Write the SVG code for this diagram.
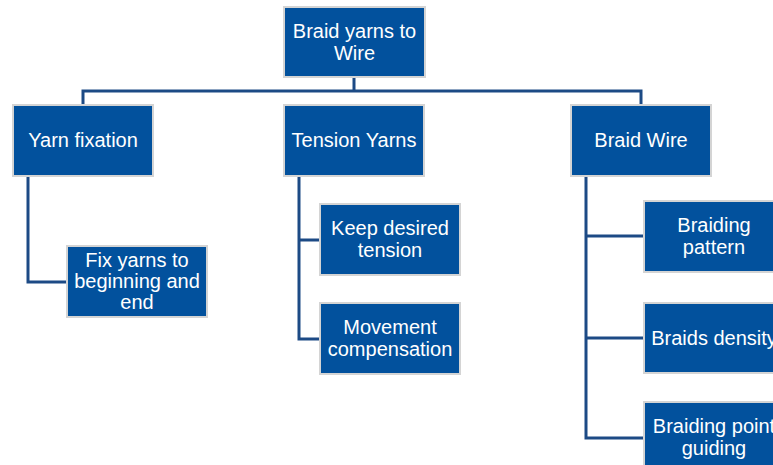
<svg xmlns="http://www.w3.org/2000/svg" width="773" height="465" viewBox="0 0 773 465">
<style>
.box{fill:#02519d;stroke:#d4d4d4;stroke-width:2}
.t{font-family:"Liberation Sans",Arial,sans-serif;font-size:20px;fill:#ffffff;text-anchor:middle}
.c{fill:none;stroke:#1c4a85;stroke-width:3}
</style>
<rect width="773" height="465" fill="#ffffff"/>
<g id="connectors">
<path class="c" d="M354,77 V91 M83,105 V91 H641 V105"/>
<path class="c" d="M28,176 V282 H67"/>
<path class="c" d="M299,176 V339 H320 M299,240 H320"/>
<path class="c" d="M586,176 V438 H644 M586,236 H644 M586,338 H644"/>
</g>
<g id="root"><rect class="box" x="284" y="7" width="141" height="70"/><text class="t" x="354.5" y="38">Braid yarns to</text><text class="t" x="354.5" y="60">Wire</text></g>
<g id="yarn-fixation"><rect class="box" x="13" y="105" width="140" height="71"/><text class="t" x="83" y="147">Yarn fixation</text></g>
<g id="tension-yarns"><rect class="box" x="284" y="105" width="140" height="71"/><text class="t" x="354" y="147">Tension Yarns</text></g>
<g id="braid-wire"><rect class="box" x="571" y="105" width="140" height="71"/><text class="t" x="641" y="147">Braid Wire</text></g>
<g id="fix-yarns"><rect class="box" x="67" y="246" width="140" height="71"/><text class="t" x="137" y="267">Fix yarns to</text><text class="t" x="137" y="288">beginning and</text><text class="t" x="137" y="309">end</text></g>
<g id="keep-tension"><rect class="box" x="320" y="204" width="140" height="71"/><text class="t" x="390" y="235">Keep desired</text><text class="t" x="390" y="257">tension</text></g>
<g id="movement"><rect class="box" x="320" y="303" width="140" height="71"/><text class="t" x="390" y="334">Movement</text><text class="t" x="390" y="356">compensation</text></g>
<g id="braiding-pattern"><rect class="box" x="644" y="201" width="140" height="71"/><text class="t" x="714" y="232">Braiding</text><text class="t" x="714" y="254">pattern</text></g>
<g id="braids-density"><rect class="box" x="644" y="303" width="140" height="70"/><text class="t" x="714" y="345">Braids density</text></g>
<g id="braiding-point"><rect class="box" x="644" y="402" width="140" height="71"/><text class="t" x="714" y="433">Braiding point</text><text class="t" x="714" y="455">guiding</text></g>
</svg>
